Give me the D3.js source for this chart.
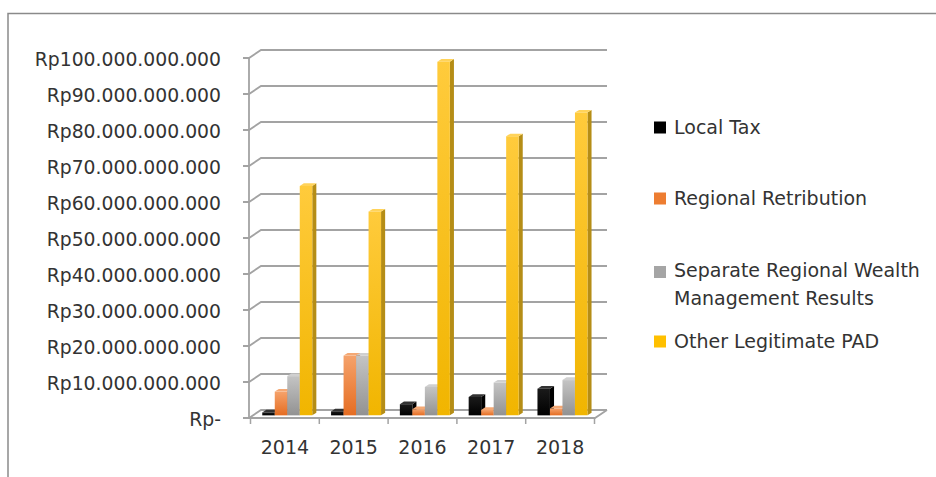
<!DOCTYPE html>
<html>
<head>
<meta charset="utf-8">
<script src="https://cdn.jsdelivr.net/npm/d3@7"></script>
<style>
  body { margin: 0; background: #fff; }
  svg { display: block; }
  text { font-family: "DejaVu Sans", sans-serif; fill: #333333; }
</style>
</head>
<body>
<svg id="chart" width="936" height="477"></svg>
<script>
// data (Rupiah)
const years = ["2014", "2015", "2016", "2017", "2018"];
const seriesNames = ["Local Tax", "Regional Retribution", "Separate Regional Wealth Management Results", "Other Legitimate PAD"];
const localTax = [0.8e9, 1.1e9, 3.1e9, 5.1e9, 7.4e9];
const regionalRetribution = [6.6e9, 16.6e9, 1.7e9, 1.5e9, 1.9e9];
const separateWealth = [10.9e9, 16.6e9, 7.9e9, 9.1e9, 9.8e9];
const otherPAD = [63.7e9, 56.6e9, 98.2e9, 77.5e9, 84.1e9];
const yTicks = [0, 10e9, 20e9, 30e9, 40e9, 50e9, 60e9, 70e9, 80e9, 90e9, 100e9];
const legendLines = [["Local Tax"], ["Regional Retribution"], ["Separate Regional Wealth", "Management Results"], ["Other Legitimate PAD"]];

const allSeries = [localTax, regionalRetribution, separateWealth, otherPAD];

// colours: front top, front bottom, side, top face
const palette = [
    {id: "g0", top: "#1a1a1a", bottom: "#000000", side: "#000000", cap: "#333333", key: "#000000"},
    {id: "g1", top: "#f5a26b", bottom: "#e56d22", side: "#b55a1f", cap: "#f4a874", key: "#ed7d31"},
    {id: "g2", top: "#c4c4c4", bottom: "#929292", side: "#7c7c7c", cap: "#d0d0d0", key: "#a5a5a5"},
    {id: "g3", top: "#ffcb3c", bottom: "#f1b500", side: "#b58d16", cap: "#ffd35a", key: "#ffc000"}
];

const svg = d3.select("#chart");

// 3D depth of the floor (front -> back)
const DX = 12, DY = -8;
const proj = (x, y, z) => [x + DX * z, y + DY * z];

const x = d3.scaleBand().domain(years).range([250.5, 594.5]);
const xs = d3.scaleBand().domain(d3.range(4)).range([7.8, 57.8]);
const y = d3.scaleLinear().domain([0, 100e9]).range([418, 58]);

const fmtLocale = d3.formatLocale({decimal: ",", thousands: ".", grouping: [3], currency: ["Rp", ""]});
const fmt = fmtLocale.format(",.0f");
const tickLabel = (d) => d === 0 ? "Rp-" : "Rp" + fmt(d);

// outer frame
svg.append("path")
    .attr("d", "M8,477 V13.5 H936")
    .attr("fill", "none")
    .attr("stroke", "#8a8a8a")
    .attr("stroke-width", 1.5);

// gradients
const defs = svg.append("defs");
palette.forEach(p => {
    const g = defs.append("linearGradient").attr("id", p.id)
        .attr("x1", 0).attr("y1", 0).attr("x2", 0).attr("y2", 1);
    g.append("stop").attr("offset", "0%").attr("stop-color", p.top);
    g.append("stop").attr("offset", "100%").attr("stop-color", p.bottom);
});

const gridColor = "#a3a3a3";

// back wall gridlines
svg.append("g").selectAll("path")
    .data(yTicks)
    .join("path")
    .attr("d", d => {
        const yf = y(d);
        const [xb, yb] = proj(249, yf, 1);
        return `M243,${yf} H249 L${xb},${yb} H607`;
    })
    .attr("fill", "none")
    .attr("stroke", gridColor)
    .attr("stroke-width", 1.8);

// floor front edge and value axis
svg.append("path")
    .attr("d", `M249,${y(100e9)} V${y(0)} H595 L607,${y(0) + DY}`)
    .attr("fill", "none")
    .attr("stroke", gridColor)
    .attr("stroke-width", 1.8);

// category ticks
svg.append("g").selectAll("line")
    .data(years.concat(["end"]))
    .join("line")
    .attr("x1", (d, i) => i < years.length ? x(d) : x.range()[1])
    .attr("x2", (d, i) => i < years.length ? x(d) : x.range()[1])
    .attr("y1", y(0))
    .attr("y2", y(0) + 6)
    .attr("stroke", gridColor)
    .attr("stroke-width", 1.5);

// y labels
svg.append("g").selectAll("text")
    .data(yTicks)
    .join("text")
    .attr("x", 221)
    .attr("y", d => y(d) + 1)
    .attr("dy", "0.35em")
    .attr("text-anchor", "end")
    .style("font-size", "18.8px")
    .text(tickLabel);

// x labels
svg.append("g").selectAll("text")
    .data(years)
    .join("text")
    .attr("x", d => x(d) + x.bandwidth() / 2)
    .attr("y", 447)
    .attr("dy", "0.35em")
    .attr("text-anchor", "middle")
    .style("font-size", "19px")
    .text(d => d);

// bars (3D columns), drawn left to right so later fronts cover earlier sides
const zf = 0.33, zb = 0.67;
const barData = [];
years.forEach((yr, i) => {
    allSeries.forEach((s, j) => {
        barData.push({year: yr, s: j, value: s[i]});
    });
});

const bars = svg.append("g").selectAll("g")
    .data(barData)
    .join("g");

const pts = (arr) => arr.map(p => p.join(",")).join(" ");

bars.each(function(d) {
    const g = d3.select(this);
    const p = palette[d.s];
    const x0 = x(d.year) + xs(d.s);
    const x1 = x0 + xs.bandwidth();
    const yt = y(d.value), y0 = y(0);
    const a = proj(x0, yt, zf), b = proj(x1, yt, zf), c = proj(x1, y0, zf), e = proj(x0, y0, zf);
    const bt = proj(x1, yt, zb), bb = proj(x1, y0, zb), at = proj(x0, yt, zb);
    // side face
    g.append("polygon").attr("points", pts([b, bt, bb, c])).attr("fill", p.side);
    // top face
    g.append("polygon").attr("points", pts([a, b, bt, at])).attr("fill", p.cap);
    // front face
    g.append("polygon").attr("points", pts([a, b, c, e])).attr("fill", `url(#${p.id})`);
});

// legend
const legendY = [127.5, 198.5, 270, 341.5];
const legend = svg.append("g").selectAll("g")
    .data(seriesNames)
    .join("g")
    .attr("transform", (d, i) => `translate(654,${legendY[i]})`);

legend.append("rect")
    .attr("x", 0)
    .attr("y", (d, i) => i === 2 ? -4 : -6)
    .attr("width", 12)
    .attr("height", 12)
    .attr("fill", (d, i) => palette[i].key);

legend.append("text")
    .attr("x", 20)
    .style("font-size", "19px")
    .each(function(d, i) {
        const t = d3.select(this);
        legendLines[i].forEach((line, k) => {
            t.append("tspan")
                .attr("x", 20)
                .attr("y", k * 28.5)
                .attr("dy", "0.35em")
                .text(line);
        });
    });
</script>
</body>
</html>
